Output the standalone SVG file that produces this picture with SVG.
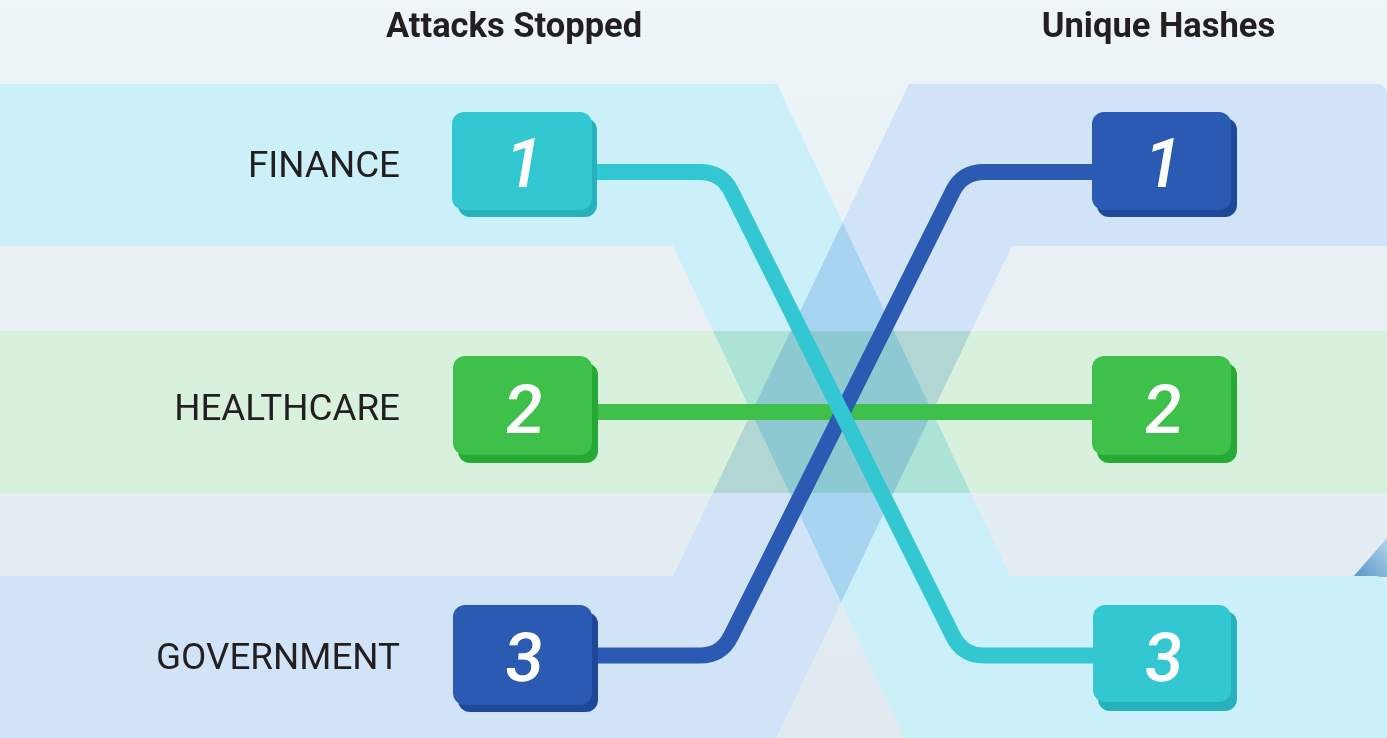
<svg xmlns="http://www.w3.org/2000/svg" width="1387" height="738" viewBox="0 0 1387 738">
  <defs>
    <linearGradient id="bg" x1="0" y1="0" x2="0" y2="1">
      <stop offset="0" stop-color="#eef5f8"/>
      <stop offset="1" stop-color="#e0eaf0"/>
    </linearGradient>
    <linearGradient id="corner" x1="0" y1="1" x2="1" y2="0">
      <stop offset="0" stop-color="#5594c6"/>
      <stop offset="1" stop-color="#b4d5ea"/>
    </linearGradient>
    <style>
      .bands { isolation: isolate; }
      .band-cyan { fill: #ccf0fa; mix-blend-mode: multiply; }
      .band-blue { fill: #d1e3f6; mix-blend-mode: multiply; }
      .band-green { fill: #d8f1dc; mix-blend-mode: multiply; }
      .title { font-family: Roboto, "Liberation Sans", sans-serif; font-weight: 700; font-size: 34.5px; fill: #231f20; text-anchor: middle; }
      .label { font-family: Roboto, "Liberation Sans", sans-serif; font-size: 36.8px; fill: #231f20; text-anchor: end; }
      .num { font-family: Roboto, "Liberation Sans", sans-serif; font-size: 68px; font-weight: 500; fill: #ffffff; text-anchor: middle; }
      .it { font-style: italic; }
      .conn { fill: none; stroke-width: 16; }
      .c-cyan { stroke: #33c7d2; }
      .c-blue { stroke: #2a5ab2; }
      .c-green { stroke: #3ec04b; }
      .f-cyan { fill: #33c7d2; } .s-cyan { fill: #27b1bc; }
      .f-blue { fill: #2a5ab2; } .s-blue { fill: #1f4998; }
      .f-green { fill: #3ec04b; } .s-green { fill: #26aa35; }
    </style>
  </defs>

  <rect x="0" y="0" width="1387" height="738" fill="url(#bg)"/>
  <polygon points="1353,577 1387,538 1387,577" fill="url(#corner)"/>

  <g id="bands" class="bands">
    <path class="band-blue" d="M909,84 H1375 Q1387,84 1387,96 V246 H1012 L776,738 H0 V576 H673 Z"/>
    <path class="band-cyan" d="M0,84 H777 L1010,576 H1375 Q1387,576 1387,588 V738 H905 L673,246 H0 Z"/>
    <rect class="band-green" x="0" y="331" width="1387" height="162"/>
  </g>

  <g id="titles">
    <text class="title" x="514" y="37">Attacks Stopped</text>
    <text class="title" x="1158.5" y="37">Unique Hashes</text>
  </g>

  <g id="labels">
    <text class="label" x="400" y="177">FINANCE</text>
    <text class="label" x="400" y="420">HEALTHCARE</text>
    <text class="label" x="400" y="669">GOVERNMENT</text>
  </g>

  <g id="connectors">
    <path class="conn c-green" d="M592,412 H1093"/>
    <path class="conn c-blue" d="M592,655.5 H700 Q721.5,655.5 731,636 L953,191 Q962.5,172 984,172 H1093"/>
    <path class="conn c-cyan" d="M592,172 H700 Q721.5,172 731,191 L953,636 Q962.5,655.5 984,655.5 H1093"/>
  </g>

  <g id="node-left-1">
    <rect class="s-cyan" x="458" y="118" width="139" height="99" rx="12"/>
    <rect class="f-cyan" x="452" y="112" width="140" height="98" rx="12"/>
    <text class="num it" x="524" y="187">1</text>
  </g>
  <g id="node-left-2">
    <rect class="s-green" x="458" y="363" width="140" height="100" rx="12"/>
    <rect class="f-green" x="453" y="356" width="139" height="99" rx="12"/>
    <text class="num" transform="translate(522.5,433) skewX(-5)">2</text>
  </g>
  <g id="node-left-3">
    <rect class="s-blue" x="458" y="612" width="140" height="100" rx="12"/>
    <rect class="f-blue" x="453" y="605" width="139" height="100" rx="12"/>
    <text class="num" transform="translate(522.5,681) skewX(-5)">3</text>
  </g>
  <g id="node-right-1">
    <rect class="s-blue" x="1097" y="118" width="140" height="99" rx="12"/>
    <rect class="f-blue" x="1092" y="112" width="139" height="98" rx="12"/>
    <text class="num it" x="1163" y="187">1</text>
  </g>
  <g id="node-right-2">
    <rect class="s-green" x="1097" y="363" width="140" height="100" rx="12"/>
    <rect class="f-green" x="1092" y="356" width="139" height="99" rx="12"/>
    <text class="num" transform="translate(1161.5,433) skewX(-5)">2</text>
  </g>
  <g id="node-right-3">
    <rect class="s-cyan" x="1098" y="611" width="139" height="100" rx="12"/>
    <rect class="f-cyan" x="1093" y="605" width="138" height="97" rx="12"/>
    <text class="num" transform="translate(1162,681) skewX(-5)">3</text>
  </g>
</svg>
